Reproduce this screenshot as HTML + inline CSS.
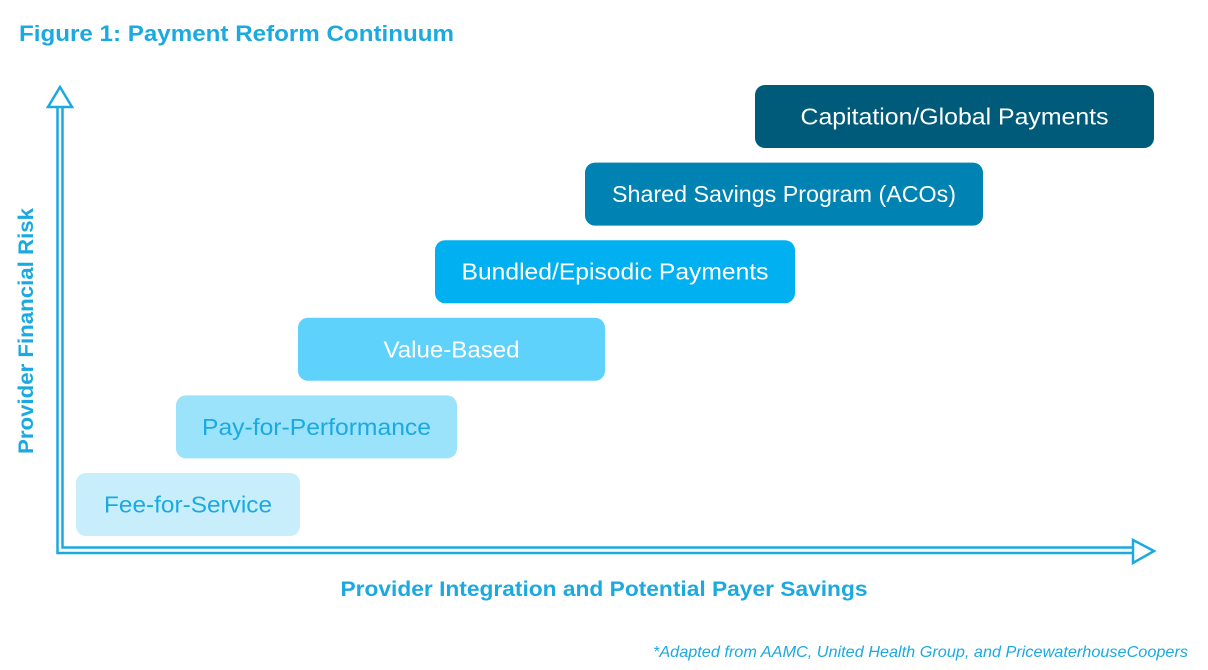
<!DOCTYPE html>
<html><head><meta charset="utf-8"><style>
html,body{margin:0;padding:0;background:#fff;}
svg{display:block;font-family:"Liberation Sans",sans-serif;}
</style></head><body>
<svg width="1208" height="670" viewBox="0 0 1208 670">
<text x="19" y="41" font-size="22" font-weight="bold" fill="#1ba9e1" textLength="435" lengthAdjust="spacingAndGlyphs">Figure 1: Payment Reform Continuum</text>
<g fill="none" stroke="#1ba9e1" stroke-width="2.5">
<polyline points="57.5,107 57.5,553 1133,553"/>
<polyline points="62.5,107 62.5,547.5 1133,547.5"/>
<polygon points="60,87 48,107 72,107" stroke-linejoin="miter"/>
<polygon points="1154,551 1133,540 1133,563"/>
</g>
<text transform="translate(33,331) rotate(-90)" text-anchor="middle" font-size="21" font-weight="bold" fill="#1ba9e1" textLength="246" lengthAdjust="spacingAndGlyphs">Provider Financial Risk</text>
<text x="604" y="596" text-anchor="middle" font-size="21" font-weight="bold" fill="#1ba9e1" textLength="527" lengthAdjust="spacingAndGlyphs">Provider Integration and Potential Payer Savings</text>
<text x="1188" y="657" text-anchor="end" font-size="16" font-style="italic" fill="#1ba9e1" textLength="535" lengthAdjust="spacingAndGlyphs">*Adapted from AAMC, United Health Group, and PricewaterhouseCoopers</text>
<g id="steps"></g>
</svg>
<script>
const labels=["Fee-for-Service","Pay-for-Performance","Value-Based","Bundled/Episodic Payments","Shared Savings Program (ACOs)","Capitation/Global Payments"];
const startX=[76,176,298,435,585,755];
const endX=[300,457,605,795,983,1154];
const fills=["#c8eefb","#9be2fb","#5fd2fc","#00b0f0","#0083b3","#005b7a"];
const textColors=["#1ba9e1","#1ba9e1","#ffffff","#ffffff","#ffffff","#ffffff"];
const textW=[168,229,136,307,344,308];
const g=document.getElementById('steps');
const ns="http://www.w3.org/2000/svg";
labels.forEach((l,i)=>{
  const y=473-i*77.6, h=63;
  const r=document.createElementNS(ns,'rect');
  
  
  r.setAttribute('x',startX[i]);r.setAttribute('y',y);
  r.setAttribute('width',endX[i]-startX[i]);r.setAttribute('height',h);
  r.setAttribute('rx',10);r.setAttribute('fill',fills[i]);
  g.appendChild(r);
  const t=document.createElementNS(ns,'text');
  
  
  t.setAttribute('x',(startX[i]+endX[i])/2);t.setAttribute('y',y+h/2+8);
  t.setAttribute('text-anchor','middle');t.setAttribute('font-size','23');
  t.setAttribute('fill',textColors[i]);
  t.setAttribute('textLength',textW[i]);t.setAttribute('lengthAdjust','spacingAndGlyphs');
  t.textContent=l;
  g.appendChild(t);
});
</script>
</body></html>
